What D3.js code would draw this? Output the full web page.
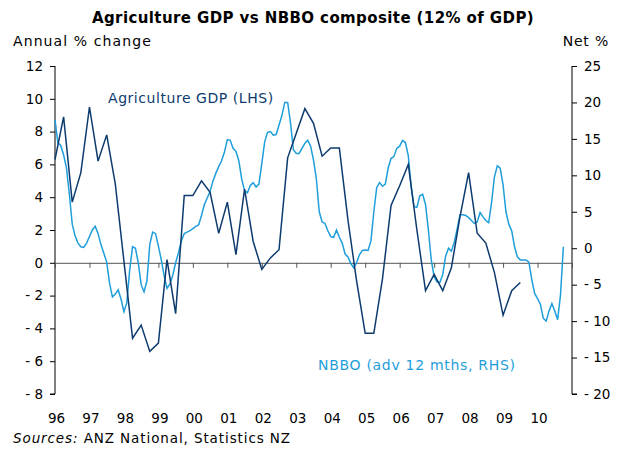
<!DOCTYPE html>
<html lang="en">
<head>
<meta charset="UTF-8">
<script src="https://d3js.org/d3.v7.min.js"></script>
<title>Agriculture GDP vs NBBO</title>
<style>
  body { margin: 0; background: #fff; }
  text { font-family: Verdana, "DejaVu Sans", sans-serif; }
</style>
</head>
<body>
<svg id="chart" width="623" height="450"></svg>
<script>
// Agriculture GDP, annual % change, quarterly from 1996 Q1 (LHS)
var agriGdp = [
  6.3, 8.9, 3.7, 5.5,
  9.5, 6.2, 7.8, 4.8,
  0.1, -4.6, -3.8, -5.4,
  -4.9, 0.2, -3.1, 4.1,
  4.1, 5.0, 4.3, 1.8,
  3.7, 0.5, 4.5, 1.3,
  -0.4, 0.3, 0.8, 6.4,
  7.9, 9.4, 8.5, 6.5,
  7.0, 7.0, 2.6, -1.1,
  -4.3, -4.3, -1.0, 3.5,
  4.7, 6.0, 2.0, -1.7,
  -0.7, -1.7, -0.3, 2.8,
  5.5, 1.8, 1.2, -0.6,
  -3.2, -1.7, -1.2
];

// NBBO composite, net %, advanced 12 months, monthly from Jan 1996 (RHS)
var nbbo = [
  17.6, 14.5, 14.1, 12.8, 11.0, 7.4, 3.3, 1.7, 0.7, 0.2, 0.1, 0.7,
  1.6, 2.5, 3.0, 2.0, 0.5, -0.7, -1.9, -4.8, -6.7, -6.3, -5.7, -7.0,
  -8.7, -7.5, -3.0, 0.2, 0.0, -2.0, -5.0, -6.0, -4.5, 0.5, 2.2, 2.0,
  0.3, -1.6, -3.8, -5.5, -4.9, -3.7, -2.0, -0.6, 1.0, 2.0, 2.2, 2.4,
  2.7, 3.0, 3.2, 4.5, 6.0, 6.9, 7.8, 9.2, 10.3, 11.2, 12.0, 13.2,
  14.9, 14.8, 13.7, 13.3, 12.0, 9.5, 7.9, 7.6, 8.6, 9.0, 8.4, 8.8,
  11.6, 14.6, 15.9, 16.0, 15.5, 15.6, 16.9, 18.2, 20.0, 20.0, 17.2, 13.5,
  13.0, 13.0, 13.7, 14.4, 14.8, 14.0, 12.1, 9.5, 5.0, 3.6, 3.4, 2.4,
  1.6, 1.5, 2.5, 1.5, 0.7, -0.8, -1.2, -2.1, -2.7, -2.0, -0.9, -0.3,
  -0.25, -0.3, 1.0, 5.0, 8.3, 9.0, 8.5, 8.8, 11.0, 12.3, 12.6, 13.7,
  14.0, 14.8, 14.5, 12.7, 8.5, 5.7, 5.6, 7.2, 7.4, 6.0, 2.5, -1.6,
  -3.9, -4.6, -4.7, -3.6, -1.1, 0.0, -0.4, 0.8, 2.6, 4.6, 4.6, 4.5,
  4.2, 3.8, 3.4, 3.6, 4.9, 4.3, 3.8, 3.5, 6.3, 9.8, 11.3, 11.0,
  8.7, 5.0, 3.3, 2.4, 0.2, -1.2, -1.6, -1.6, -1.6, -1.9, -4.3, -6.2,
  -6.9, -7.7, -9.6, -10.0, -8.6, -7.6, -8.6, -9.8, -6.4, 0.2
];

var yearLabels = ["96", "97", "98", "99", "00", "01", "02", "03", "04", "05", "06", "07", "08", "09", "10"];
var leftTicks = [12, 10, 8, 6, 4, 2, 0, -2, -4, -6, -8];
var rightTicks = [25, 20, 15, 10, 5, 0, -5, -10, -15, -20];

var darkBlue = "#0d3b6e";
var lightBlue = "#1f9edb";

var svg = d3.select("#chart");
var plot = {left: 55, right: 572, top: 66, bottom: 394};

var x = d3.scaleLinear().domain([1996, 2011]).range([plot.left, plot.right]);
var yL = d3.scaleLinear().domain([-8, 12]).range([plot.bottom, plot.top]);
var yR = d3.scaleLinear().domain([-20, 25]).range([plot.bottom, plot.top]);

var fmt = function(d) { return d < 0 ? "- " + Math.abs(d) : d; };

// left axis
svg.append("g")
  .attr("transform", "translate(" + plot.left + ",0)")
  .call(d3.axisLeft(yL).tickValues(leftTicks).tickSize(5).tickPadding(7).tickFormat(fmt))
  .call(function(g) {
    g.selectAll("text").attr("font-size", 13.5).attr("fill", "#000");
    g.selectAll("line, path").attr("stroke", "#000");
    g.select(".domain").attr("d", "M0," + plot.top + "V" + plot.bottom + "H-5");
  });

// right axis
svg.append("g")
  .attr("transform", "translate(" + plot.right + ",0)")
  .call(d3.axisRight(yR).tickValues(rightTicks).tickSize(5).tickPadding(7).tickFormat(fmt))
  .call(function(g) {
    g.selectAll("text").attr("font-size", 13.5).attr("fill", "#000");
    g.selectAll("line, path").attr("stroke", "#000");
    g.select(".domain").attr("d", "M0," + plot.top + "V" + plot.bottom + "H5");
  });

// zero line with year ticks
svg.append("g")
  .attr("transform", "translate(0," + yL(0) + ")")
  .call(d3.axisBottom(x).tickValues(d3.range(1996, 2012)).tickSize(5).tickSizeOuter(0).tickFormat(""))
  .call(function(g) {
    g.selectAll("line, path").attr("stroke", "#555");
  });

// year labels at bottom
svg.append("g")
  .attr("transform", "translate(1," + (plot.bottom + 16) + ")")
  .call(d3.axisBottom(x).tickValues(d3.range(1996, 2011)).tickSize(0)
    .tickFormat(function(d, i) { return yearLabels[i]; }))
  .call(function(g) {
    g.select(".domain").remove();
    g.selectAll("text").attr("font-size", 13.5).attr("fill", "#000");
  });

// lines
var nbboLine = d3.line()
  .x(function(d, i) { return x(1996 + i / 12); })
  .y(function(d) { return yR(d); });
var agriLine = d3.line()
  .x(function(d, i) { return x(1996 + i / 4); })
  .y(function(d) { return yL(d); });

svg.append("path").datum(nbbo)
  .attr("d", nbboLine)
  .attr("fill", "none").attr("stroke", lightBlue).attr("stroke-width", 1.5);
svg.append("path").datum(agriGdp)
  .attr("d", agriLine)
  .attr("fill", "none").attr("stroke", darkBlue).attr("stroke-width", 1.5);

// titles and labels
svg.append("text").attr("x", 313).attr("y", 23).attr("text-anchor", "middle")
  .attr("font-size", 15).attr("font-weight", "bold").attr("letter-spacing", 0.4)
  .text("Agriculture GDP vs NBBO composite (12% of GDP)");
svg.append("text").attr("x", 13).attr("y", 46).attr("font-size", 14).attr("letter-spacing", 1.1)
  .text("Annual % change");
svg.append("text").attr("x", 609).attr("y", 46).attr("font-size", 14).attr("letter-spacing", 0.8)
  .attr("text-anchor", "end").text("Net %");

svg.append("text").attr("x", 108).attr("y", 103).attr("font-size", 14).attr("letter-spacing", 0.55)
  .attr("fill", darkBlue).text("Agriculture GDP (LHS)");
svg.append("text").attr("x", 318).attr("y", 370).attr("font-size", 14).attr("letter-spacing", 0.7)
  .attr("fill", lightBlue).text("NBBO (adv 12 mths, RHS)");

var src = svg.append("text").attr("x", 13).attr("y", 443).attr("font-size", 13.5).attr("letter-spacing", 0.9);
src.append("tspan").attr("font-style", "italic").text("Sources:");
src.append("tspan").text("  ANZ National, Statistics NZ");
</script>
</body>
</html>
